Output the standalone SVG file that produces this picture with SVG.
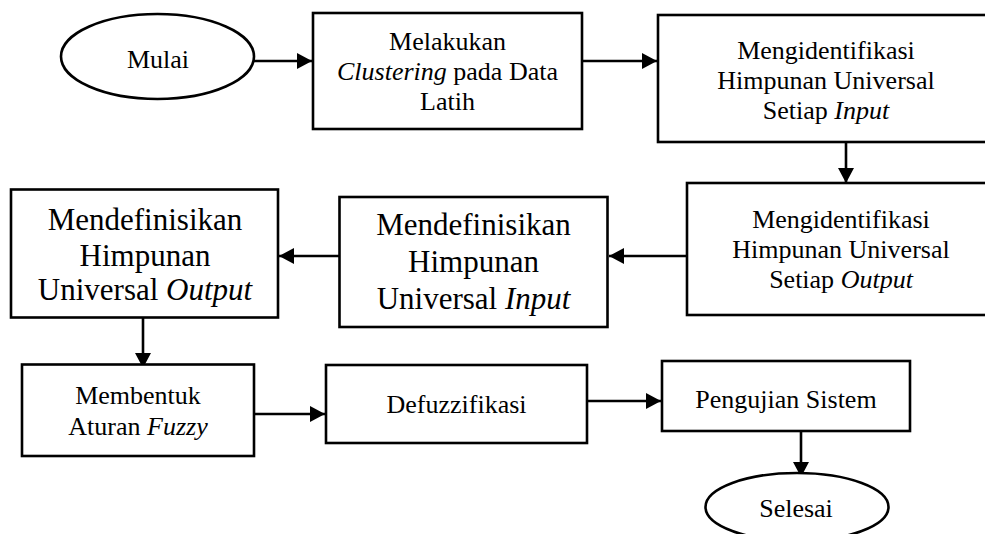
<svg xmlns="http://www.w3.org/2000/svg" width="985" height="534" viewBox="0 0 985 534">
<defs>
<style>
.box{fill:#fff;stroke:#000;stroke-width:2.6}
.t{font-family:"Liberation Serif","Times New Roman",serif;font-size:26px;fill:#000;text-anchor:middle}
.L{font-size:31px}
.i{font-style:italic}
.c{stroke:#000;stroke-width:2.6;fill:none;marker-end:url(#ah)}
</style>
<marker id="ah" markerUnits="userSpaceOnUse" markerWidth="16" markerHeight="16" refX="15" refY="8" orient="auto">
<path d="M0,0 L15,8 L0,16 Z" fill="#000"/>
</marker>
</defs>
<rect width="985" height="534" fill="#fff"/>
<g id="connectors">
<line class="c" x1="254" y1="61" x2="312" y2="61"/>
<line class="c" x1="582" y1="61" x2="657" y2="61"/>
<line class="c" x1="846" y1="130" x2="846" y2="183"/>
<line class="c" x1="687" y1="256" x2="609" y2="256"/>
<line class="c" x1="339" y1="256" x2="279" y2="256"/>
<line class="c" x1="143" y1="318" x2="143" y2="368"/>
<line class="c" x1="254" y1="414" x2="325" y2="414"/>
<line class="c" x1="587" y1="401" x2="661" y2="401"/>
<line class="c" x1="801" y1="427" x2="801" y2="477"/>
</g>
<g id="mulai">
<ellipse class="box" cx="157.5" cy="56.5" rx="96.5" ry="42.5"/>
<text class="t" x="158" y="67.5">Mulai</text>
</g>
<g id="clustering">
<rect class="box" x="313" y="13" width="269" height="116"/>
<text class="t" x="447.5" y="49.5">Melakukan</text>
<text class="t" x="447.5" y="79.5"><tspan class="i">Clustering</tspan> pada Data</text>
<text class="t" x="447.5" y="109.5">Latih</text>
</g>
<g id="ident-input">
<rect class="box" x="658" y="15" width="340" height="127"/>
<text class="t" x="826" y="59">Mengidentifikasi</text>
<text class="t" x="826" y="89">Himpunan Universal</text>
<text class="t" x="826" y="119">Setiap <tspan class="i">Input</tspan></text>
</g>
<g id="ident-output">
<rect class="box" x="687" y="183" width="320" height="132"/>
<text class="t" x="841" y="227.5">Mengidentifikasi</text>
<text class="t" x="841" y="257.5">Himpunan Universal</text>
<text class="t" x="841" y="287.5">Setiap <tspan class="i">Output</tspan></text>
</g>
<g id="def-input">
<rect class="box" x="339.5" y="197" width="268" height="130"/>
<text class="t L" x="473.5" y="235">Mendefinisikan</text>
<text class="t L" x="473.5" y="272">Himpunan</text>
<text class="t L" x="473.5" y="309">Universal <tspan class="i">Input</tspan></text>
</g>
<g id="def-output">
<rect class="box" x="11" y="189.5" width="267" height="128"/>
<text class="t L" x="145" y="230">Mendefinisikan</text>
<text class="t L" x="145" y="265.5">Himpunan</text>
<text class="t L" x="145" y="300">Universal <tspan class="i">Output</tspan></text>
</g>
<g id="aturan">
<rect class="box" x="22" y="364.5" width="232" height="91.5"/>
<text class="t" x="138" y="404">Membentuk</text>
<text class="t" x="138" y="435">Aturan <tspan class="i">Fuzzy</tspan></text>
</g>
<g id="defuzzifikasi">
<rect class="box" x="326" y="365" width="261" height="78"/>
<text class="t" x="456.5" y="413">Defuzzifikasi</text>
</g>
<g id="pengujian">
<rect class="box" x="662" y="361" width="248" height="70"/>
<text class="t" x="786" y="407.5">Pengujian Sistem</text>
</g>
<g id="selesai">
<ellipse class="box" cx="797" cy="507" rx="91.5" ry="34"/>
<text class="t" x="796" y="516.5">Selesai</text>
</g>
</svg>
